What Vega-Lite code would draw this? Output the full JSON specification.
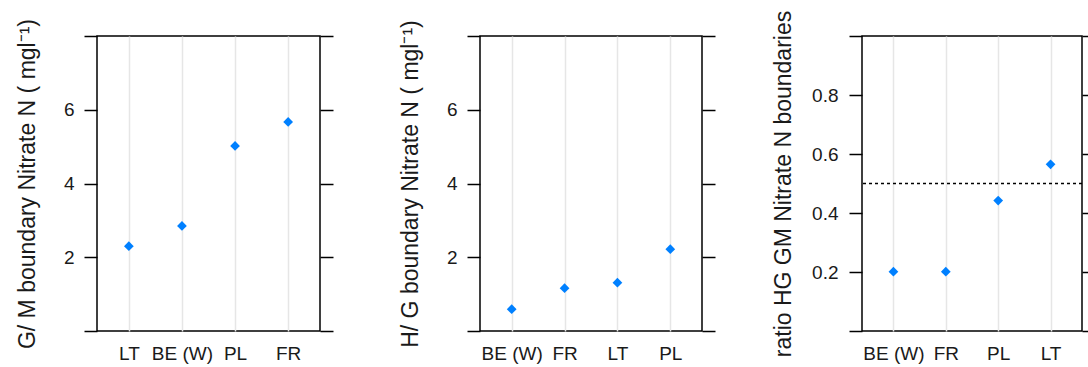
{
  "$schema": "https://vega.github.io/schema/vega-lite/v6.json",
  "padding": {"left": 15, "top": 9, "right": 0, "bottom": 0},
  "background": "white",
  "bounds": "flush",
  "spacing": 160,
  "config": {
    "font": "Liberation Sans",
    "view": {"stroke": "#000000", "strokeWidth": 1.5},
    "axis": {
      "labelFont": "Liberation Sans",
      "titleFont": "Liberation Sans",
      "labelFontSize": 19,
      "titleFontSize": 23,
      "titleFontWeight": "normal",
      "labelColor": "#1a1a1a",
      "titleColor": "#1a1a1a",
      "tickColor": "#000000",
      "domain": false
    }
  },
  "datasets": {
    "gm": [
      {"country": "LT", "gm_boundary": 2.3},
      {"country": "BE (W)", "gm_boundary": 2.85},
      {"country": "PL", "gm_boundary": 5.02},
      {"country": "FR", "gm_boundary": 5.67}
    ],
    "hg": [
      {"country": "BE (W)", "hg_boundary": 0.59},
      {"country": "FR", "hg_boundary": 1.16},
      {"country": "LT", "hg_boundary": 1.31},
      {"country": "PL", "hg_boundary": 2.22}
    ],
    "ratio": [
      {"country": "BE (W)", "ratio": 0.201},
      {"country": "FR", "ratio": 0.201},
      {"country": "PL", "ratio": 0.442},
      {"country": "LT", "ratio": 0.565}
    ],
    "reference": [
      {"ratio_ref": 0.5}
    ]
  },
  "hconcat": [
    {
      "width": 223,
      "height": 295,
      "data": {"name": "gm"},
      "layer": [
        {
          "mark": {"type": "point", "shape": "diamond", "filled": true, "size": 95, "color": "#0080ff", "opacity": 1},
          "encoding": {
            "x": {"field": "country", "type": "nominal", "sort": ["LT", "BE (W)", "PL", "FR"], "scale": {"type": "point", "padding": 0.6},
              "axis": {"title": null, "ticks": false, "grid": true, "gridColor": "#e6e6e6", "gridWidth": 1.5, "labelPadding": 13, "labelAngle": 0}},
            "y": {"field": "gm_boundary", "type": "quantitative", "scale": {"domain": [0, 8], "nice": false, "zero": false},
              "axis": {"orient": "left", "values": [0, 2, 4, 6, 8], "labelExpr": "datum.value == 0 || datum.value == 8 ? '' : datum.label", "tickSize": 13, "tickWidth": 1.5, "labelPadding": 10, "grid": false,
                "title": "G/ M boundary Nitrate N ( mgl⁻¹)", "titlePadding": 29, "titleBaseline": "alphabetic"}}
          }
        },
        {
          "mark": {"type": "point", "opacity": 0},
          "encoding": {
            "x": {"field": "country", "type": "nominal", "sort": ["LT", "BE (W)", "PL", "FR"], "scale": {"type": "point", "padding": 0.6},
              "axis": {"title": null, "ticks": false, "grid": true, "gridColor": "#e6e6e6", "gridWidth": 1.5, "labelPadding": 13, "labelAngle": 0}},
            "y": {"field": "gm_boundary", "type": "quantitative",
              "axis": {"orient": "right", "values": [0, 2, 4, 6, 8], "labels": false, "tickSize": 13, "tickWidth": 1.5, "grid": false, "title": null}}
          }
        }
      ],
      "resolve": {"axis": {"y": "independent"}}
    },
    {
      "width": 222,
      "height": 295,
      "data": {"name": "hg"},
      "layer": [
        {
          "mark": {"type": "point", "shape": "diamond", "filled": true, "size": 95, "color": "#0080ff", "opacity": 1},
          "encoding": {
            "x": {"field": "country", "type": "nominal", "sort": ["BE (W)", "FR", "LT", "PL"], "scale": {"type": "point", "padding": 0.6},
              "axis": {"title": null, "ticks": false, "grid": true, "gridColor": "#e6e6e6", "gridWidth": 1.5, "labelPadding": 13, "labelAngle": 0}},
            "y": {"field": "hg_boundary", "type": "quantitative", "scale": {"domain": [0, 8], "nice": false, "zero": false},
              "axis": {"orient": "left", "values": [0, 2, 4, 6, 8], "labelExpr": "datum.value == 0 || datum.value == 8 ? '' : datum.label", "tickSize": 13, "tickWidth": 1.5, "labelPadding": 10, "grid": false,
                "title": "H/ G boundary Nitrate N ( mgl⁻¹)", "titlePadding": 29, "titleBaseline": "alphabetic"}}
          }
        },
        {
          "mark": {"type": "point", "opacity": 0},
          "encoding": {
            "x": {"field": "country", "type": "nominal", "sort": ["BE (W)", "FR", "LT", "PL"], "scale": {"type": "point", "padding": 0.6},
              "axis": {"title": null, "ticks": false, "grid": true, "gridColor": "#e6e6e6", "gridWidth": 1.5, "labelPadding": 13, "labelAngle": 0}},
            "y": {"field": "hg_boundary", "type": "quantitative",
              "axis": {"orient": "right", "values": [0, 2, 4, 6, 8], "labels": false, "tickSize": 13, "tickWidth": 1.5, "grid": false, "title": null}}
          }
        }
      ],
      "resolve": {"axis": {"y": "independent"}}
    },
    {
      "width": 220,
      "height": 295,
      "layer": [
        {
          "data": {"name": "ratio"},
          "mark": {"type": "point", "shape": "diamond", "filled": true, "size": 95, "color": "#0080ff", "opacity": 1},
          "encoding": {
            "x": {"field": "country", "type": "nominal", "sort": ["BE (W)", "FR", "PL", "LT"], "scale": {"type": "point", "padding": 0.6},
              "axis": {"title": null, "ticks": false, "grid": true, "gridColor": "#e6e6e6", "gridWidth": 1.5, "labelPadding": 13, "labelAngle": 0}},
            "y": {"field": "ratio", "type": "quantitative", "scale": {"domain": [0, 1], "nice": false, "zero": false},
              "axis": {"orient": "left", "values": [0, 0.2, 0.4, 0.6, 0.8, 1], "format": ".1f", "labelExpr": "datum.value == 0 || datum.value == 1 ? '' : datum.label", "tickSize": 13, "tickWidth": 1.5, "labelPadding": 11, "grid": false,
                "title": "ratio HG GM Nitrate N boundaries", "titlePadding": 21, "titleBaseline": "alphabetic"}}
          }
        },
        {
          "data": {"name": "ratio"},
          "mark": {"type": "point", "opacity": 0},
          "encoding": {
            "x": {"field": "country", "type": "nominal", "sort": ["BE (W)", "FR", "PL", "LT"], "scale": {"type": "point", "padding": 0.6},
              "axis": {"title": null, "ticks": false, "grid": true, "gridColor": "#e6e6e6", "gridWidth": 1.5, "labelPadding": 13, "labelAngle": 0}},
            "y": {"field": "ratio", "type": "quantitative",
              "axis": {"orient": "right", "values": [0, 0.2, 0.4, 0.6, 0.8, 1], "labels": false, "tickSize": 13, "tickWidth": 1.5, "grid": false, "title": null}}
          }
        },
        {
          "data": {"name": "reference"},
          "mark": {"type": "rule", "color": "#000000", "strokeWidth": 1.3, "strokeDash": [3, 3]},
          "encoding": {
            "y": {"field": "ratio_ref", "type": "quantitative", "axis": null}
          }
        }
      ],
      "resolve": {"axis": {"y": "independent"}}
    }
  ]
}
